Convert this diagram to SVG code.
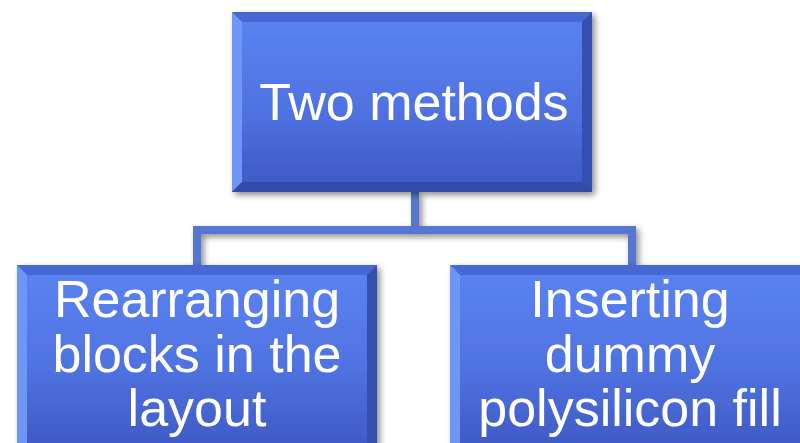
<svg xmlns="http://www.w3.org/2000/svg" width="800" height="443" viewBox="0 0 800 443">
<defs>
<linearGradient id="face" x1="0" y1="0" x2="0" y2="1">
<stop offset="0" stop-color="#5a84f2"/>
<stop offset="0.55" stop-color="#4f72e0"/>
<stop offset="1" stop-color="#3d58c2"/>
</linearGradient>
<filter id="sh" x="-10%" y="-10%" width="130%" height="130%">
<feGaussianBlur in="SourceAlpha" stdDeviation="3"/>
<feOffset dx="3" dy="3"/>
<feComponentTransfer><feFuncA type="linear" slope="0.45"/></feComponentTransfer>
<feMerge><feMergeNode/><feMergeNode in="SourceGraphic"/></feMerge>
</filter>
</defs>
<style>
.t{font-family:"Liberation Sans",Arial,sans-serif;font-size:52px;fill:#ffffff;text-anchor:middle}
.c{stroke:#5676d2;stroke-width:8;fill:none;stroke-linejoin:miter}
.tl{fill:#6d96f7}
.tp{fill:#4468d4}
.rt{fill:#3450b0}
.bt{fill:#3049a8}
</style>
<rect width="800" height="443" fill="#ffffff"/>
<g id="connectors" filter="url(#sh)">
<polyline class="c" points="415,192 415,230"/>
<polyline class="c" points="197,266 197,230 632,230 632,266"/>
</g>
<g id="top" filter="url(#sh)">
<rect x="232" y="12" width="360" height="180" fill="url(#face)"/>
<polygon class="tp" points="232,12 592,12 582,22 242,22"/>
<polygon class="tl" points="232,12 242,22 242,182 232,192"/>
<polygon class="rt" points="592,12 592,192 582,182 582,22"/>
<polygon class="bt" points="232,192 242,182 582,182 592,192"/>
<text class="t" x="414" y="120">Two methods</text>
</g>
<g id="left" filter="url(#sh)">
<rect x="17" y="265" width="360" height="190" fill="url(#face)"/>
<polygon class="tp" points="17,265 377,265 367,275 27,275"/>
<polygon class="tl" points="17,265 27,275 27,455 17,455"/>
<polygon class="rt" points="377,265 377,455 367,455 367,275"/>
<text class="t" x="197" y="317">Rearranging</text>
<text class="t" x="197" y="372">blocks in the</text>
<text class="t" x="197" y="426">layout</text>
</g>
<g id="right" filter="url(#sh)">
<rect x="450" y="265" width="360" height="190" fill="url(#face)"/>
<polygon class="tp" points="450,265 810,265 800,275 460,275"/>
<polygon class="tl" points="450,265 460,275 460,455 450,455"/>
<text class="t" x="630" y="317">Inserting</text>
<text class="t" x="630" y="372">dummy</text>
<text class="t" x="630" y="426">polysilicon fill</text>
</g>
</svg>
